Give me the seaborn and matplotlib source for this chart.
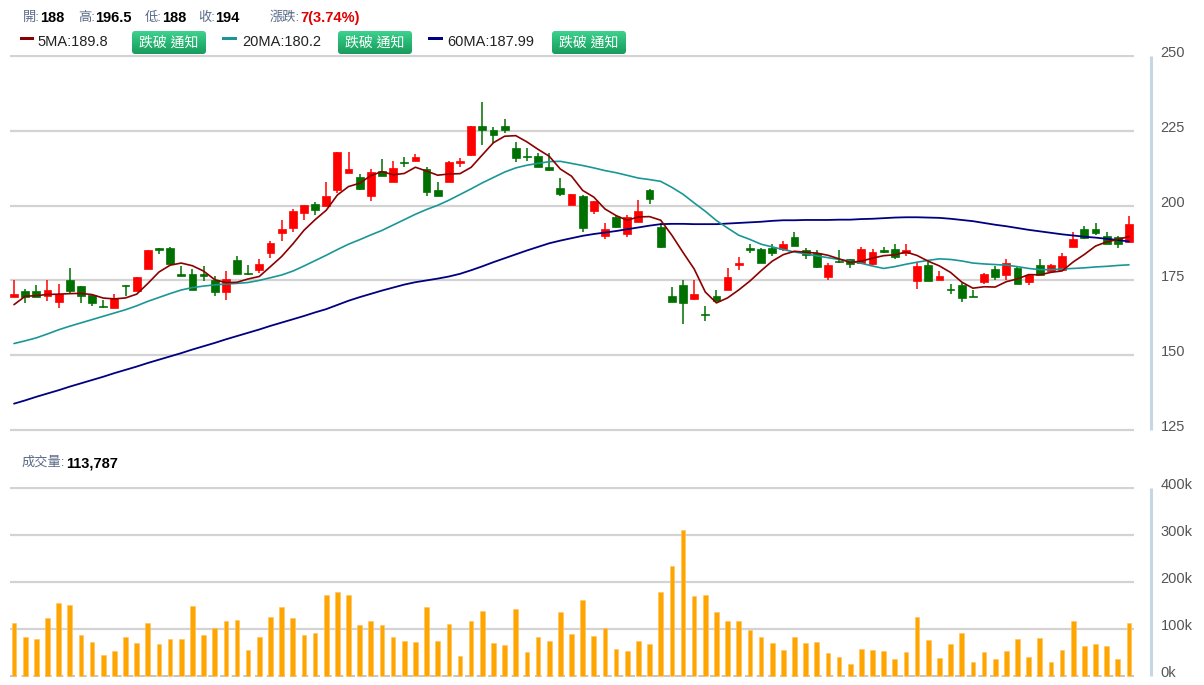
import numpy as np
import pandas as pd
import matplotlib
matplotlib.use("Agg")
import matplotlib.pyplot as plt
import matplotlib.transforms as mtransforms
from matplotlib.patches import FancyBboxPatch, Rectangle
import seaborn as sns

# ---------------- data ----------------
opens = [169.5, 171.6, 171.3, 169.9, 167.8, 175.1, 173.1, 170.0, 166.4, 165.8,
         173.6, 171.6, 178.8, 185.7, 185.7, 177.2, 177.2, 177.1, 175.1, 171.0,
         181.7, 177.5, 178.6, 184.0, 190.9, 192.5, 197.6, 200.6, 199.8, 205.1,
         210.9, 209.6, 203.1, 211.5, 207.8, 214.6, 214.8, 212.2, 205.3, 207.8,
         214.3, 217.0, 226.7, 225.4, 226.7, 219.3, 216.7, 216.5, 212.9, 205.9,
         200.3, 203.3, 198.1, 189.8, 196.2, 190.5, 194.5, 205.3, 192.8, 169.7,
         173.6, 168.9, 163.8, 169.9, 171.7, 180.1, 185.7, 185.6, 185.9, 185.6,
         189.4, 185.1, 184.2, 176.2, 181.6, 182.0, 180.8, 180.6, 185.3, 185.6,
         184.0, 174.9, 180.1, 175.3, 172.0, 173.6, 169.9, 174.4, 178.8, 176.7,
         179.0, 174.5, 180.3, 178.1, 178.6, 186.2, 192.2, 192.2, 190.0, 189.4,
         188.0]
highs = [175.3, 172.2, 173.3, 175.3, 173.9, 179.0, 173.1, 170.0, 168.6, 170.6,
         173.6, 176.2, 185.3, 185.7, 186.0, 179.7, 178.8, 179.7, 176.4, 178.3,
         183.1, 180.3, 182.0, 188.1, 195.3, 198.7, 200.1, 201.3, 208.0, 217.8,
         217.8, 210.4, 212.2, 215.7, 214.8, 216.3, 217.4, 212.9, 208.0, 214.9,
         215.9, 226.7, 234.5, 226.3, 229.0, 221.2, 219.3, 217.6, 217.6, 209.2,
         204.0, 203.7, 201.7, 194.2, 196.7, 197.0, 202.0, 205.6, 194.2, 172.7,
         175.1, 175.1, 166.4, 171.9, 179.0, 182.9, 187.0, 185.9, 187.0, 188.1,
         191.1, 185.9, 185.3, 180.8, 185.3, 182.2, 186.1, 185.6, 186.1, 187.3,
         187.3, 181.1, 181.1, 178.3, 173.9, 174.2, 171.9, 177.5, 179.7, 182.2,
         179.7, 176.7, 182.2, 180.6, 184.2, 191.1, 193.3, 194.2, 191.1, 190.0,
         196.5]
lows = [169.5, 167.5, 169.5, 168.0, 165.8, 170.6, 167.5, 166.4, 165.8, 165.8,
        169.7, 171.4, 178.8, 183.8, 180.6, 176.4, 171.7, 174.7, 169.9, 168.6,
        177.3, 176.9, 177.5, 182.5, 188.1, 191.1, 195.3, 197.0, 199.8, 204.2,
        210.9, 205.3, 201.4, 210.0, 207.8, 212.9, 214.8, 203.3, 203.1, 207.8,
        212.9, 216.5, 220.4, 220.9, 224.3, 214.5, 214.8, 212.9, 211.5, 203.3,
        200.3, 191.1, 197.3, 189.0, 192.5, 189.5, 194.5, 200.7, 185.9, 167.8,
        160.5, 168.3, 161.4, 168.0, 171.7, 178.4, 184.0, 180.8, 183.1, 184.7,
        186.4, 182.0, 179.2, 175.3, 180.8, 179.0, 180.5, 180.3, 184.0, 182.3,
        183.1, 172.2, 174.9, 175.3, 170.6, 167.7, 169.5, 173.9, 175.3, 175.3,
        173.8, 173.3, 176.9, 177.7, 178.6, 186.2, 188.9, 190.1, 187.3, 185.9,
        188.0]
closes = [170.5, 169.5, 169.5, 171.9, 170.6, 171.4, 169.9, 167.5, 166.1, 169.2,
          173.0, 176.2, 185.3, 185.3, 180.6, 176.6, 171.7, 176.4, 171.0, 175.5,
          177.3, 177.2, 180.6, 187.5, 192.3, 198.1, 200.1, 198.4, 203.3, 217.8,
          212.2, 205.7, 211.1, 210.0, 212.6, 214.3, 216.1, 204.7, 203.1, 214.6,
          214.9, 226.7, 225.4, 223.5, 225.4, 215.9, 216.3, 212.9, 212.0, 204.0,
          204.0, 192.5, 201.7, 192.2, 192.9, 196.2, 198.1, 202.2, 186.2, 167.8,
          167.5, 170.5, 163.6, 168.0, 176.2, 180.8, 185.3, 180.8, 184.0, 187.2,
          186.4, 183.6, 179.5, 180.3, 181.2, 180.6, 185.6, 184.5, 184.4, 182.7,
          185.3, 179.7, 174.9, 176.6, 171.8, 169.2, 169.5, 177.3, 176.1, 180.8,
          173.8, 176.7, 176.9, 180.3, 183.1, 188.9, 189.2, 190.9, 187.3, 187.0,
          194.0]
volume_k = [113, 83, 78, 123, 156, 151, 88, 73, 45, 53, 83, 71, 113, 68, 78, 78,
            148, 88, 103, 116, 120, 55, 83, 126, 146, 123, 88, 91, 173, 178, 173,
            108, 118, 108, 83,
            75, 73, 146, 75, 111, 43, 116, 138, 71, 65, 143, 51, 83, 75, 136, 90,
            161, 85, 103, 58, 53, 75, 68, 178, 234, 311, 171, 173, 136, 116, 116,
            98, 83, 71, 55, 83,
            71, 73, 49, 41, 26, 58, 56, 54, 36, 51, 126, 76, 39, 69, 91, 29, 51,
            36, 54, 79, 41, 81, 29, 56, 118, 63, 69, 63, 36, 113.787]
ma5_head = [166.9, 169.7, 169.9, 170.3]
ma20 = [153.9, 154.8, 155.8, 157.1, 158.5, 159.7, 160.8, 161.9, 163.0, 164.1,
        165.2, 166.5, 168.0, 169.3, 170.6, 171.8, 172.6, 173.1, 173.5, 173.8,
        174.0, 174.3, 175.0, 175.9, 176.8, 178.1, 179.8, 181.6, 183.4, 185.3,
        187.1, 188.6, 190.2, 191.7, 193.5, 195.3, 197.1, 198.7, 200.1, 201.8,
        203.7, 205.6, 207.6, 209.4, 211.2, 212.6, 213.5, 214.1, 214.7, 214.8,
        214.1, 213.4, 212.6, 211.7, 211.0, 210.1, 209.2, 208.7, 208.1, 206.1,
        203.8, 200.9, 198.1, 195.0, 192.5, 190.1, 188.7, 187.1, 186.2, 185.3,
        184.5, 183.9, 183.2, 182.6, 182.0, 181.4, 180.7, 179.8, 179.0, 179.6,
        180.4, 181.1, 181.7, 182.2, 182.0, 181.5, 180.8, 180.5, 180.3, 180.1,
        179.6, 179.0, 178.6, 178.6, 178.8, 179.0, 179.2, 179.5, 179.7, 180.0,
        180.2]
ma60 = [133.8, 134.9, 136.1, 137.2, 138.3, 139.5, 140.6, 141.7, 142.8, 144.0,
        145.1, 146.2, 147.4, 148.5, 149.6, 150.7, 151.9, 153.0, 154.1, 155.3,
        156.4, 157.5, 158.6, 159.8, 160.9, 162.0, 163.1, 164.3, 165.4, 166.8,
        168.2, 169.4, 170.5, 171.6, 172.6, 173.6, 174.4, 175.0, 175.6, 176.3,
        177.2, 178.4, 179.7, 181.1, 182.4, 183.7, 185.0, 186.2, 187.4, 188.3,
        189.1, 189.9, 190.5, 191.0, 191.5, 192.1, 192.7, 193.3, 193.8, 193.9,
        193.9, 193.8, 193.8, 193.8, 194.0, 194.2, 194.4, 194.6, 194.9, 195.1,
        195.1, 195.2, 195.2, 195.2, 195.3, 195.3, 195.5, 195.6, 195.8, 196.0,
        196.1, 196.1, 196.0, 195.9, 195.6, 195.2, 194.8, 194.2, 193.6, 193.1,
        192.5, 191.9, 191.4, 190.9, 190.4, 190.0, 189.6, 189.3, 188.9, 188.5,
        187.99]
price_ticks = [125, 150, 175, 200, 225, 250]
vol_ticks = [0, 100, 200, 300, 400]
vol_tick_labels = ["0k", "100k", "200k", "300k", "400k"]

# ---------------- style ----------------
sns.set_theme(style="white")
plt.rcParams['font.family'] = ['Liberation Sans', 'Noto Sans CJK TC', 'DejaVu Sans']

RED = "#ff0000"
GREEN = "#007000"
GRID = "#d3d3d3"
LABEL = "#555555"
AXLINE = "#c6d6e6"

W, H = 1204, 685
fig = plt.figure(figsize=(W / 100, H / 100), dpi=100)


def rect_px(x0, x1, y_top, y_bot):
    return [x0 / W, 1 - y_bot / H, (x1 - x0) / W, (y_bot - y_top) / H]


n = len(closes)
idx = np.arange(n)
df = pd.DataFrame({"i": idx, "open": opens, "high": highs, "low": lows,
                   "close": closes, "vol": volume_k})
ma5 = df["close"].rolling(5).mean().to_numpy()
ma5[:4] = ma5_head
df["ma5"] = np.round(ma5, 2)
df["ma20"] = ma20
df["ma60"] = ma60

XL = (-0.36, 100.45)

# ---------------- price panel ----------------
ax = fig.add_axes(rect_px(10, 1134, 54.5, 431.5))
up = df["close"] >= df["open"]
cols = np.where(up, RED, GREEN)
ax.vlines(df["i"], df["low"], df["high"], colors=cols, lw=1.1, zorder=3)
body_b = np.minimum(df["open"], df["close"])
body_h = np.maximum((df["close"] - df["open"]).abs(), 0.3)
ax.bar(df["i"], body_h, bottom=body_b, width=0.7, color=cols,
       edgecolor=cols, linewidth=0.5, zorder=4)

sns.lineplot(data=df, x="i", y="ma60", ax=ax, color="#000080", lw=1.3, zorder=5)
sns.lineplot(data=df, x="i", y="ma20", ax=ax, color="#1a9696", lw=1.2, zorder=5)
sns.lineplot(data=df, x="i", y="ma5", ax=ax, color="#8b0000", lw=1.2, zorder=6)

ax.set_xlim(*XL)
ax.set_ylim(124.5, 250.5)
ax.set_yticks(price_ticks)
ax.set_xticks([])
ax.grid(axis="y", color=GRID, lw=1.6, zorder=0)
for s in ax.spines.values():
    s.set_visible(False)
ax.set_xlabel("")
ax.set_ylabel("")
ax.yaxis.tick_right()
ax.tick_params(axis="y", length=0, pad=19, labelsize=10.5, labelcolor=LABEL)
off = mtransforms.ScaledTranslation(0, 0.045, fig.dpi_scale_trans)
for lbl in ax.get_yticklabels():
    lbl.set_transform(lbl.get_transform() + off)

# ---------------- volume panel ----------------
axv = fig.add_axes(rect_px(10, 1134, 486.6, 677.4))
sns.barplot(data=df, x="i", y="vol", ax=axv, native_scale=True, width=0.42,
            color="#ffa500", edgecolor="#ffc45c", linewidth=0.4,
            errorbar=None, saturation=1, zorder=3)
axv.set_xlim(*XL)
axv.set_ylim(-3, 403)
axv.set_yticks(vol_ticks)
axv.set_yticklabels(vol_tick_labels)
axv.set_xticks([])
axv.set_xlabel("")
axv.set_ylabel("")
axv.grid(axis="y", color=GRID, lw=1.6, zorder=0)
for s in axv.spines.values():
    s.set_visible(False)
axv.yaxis.tick_right()
axv.tick_params(axis="y", length=0, pad=19, labelsize=10.5, labelcolor=LABEL)
for lbl in axv.get_yticklabels():
    lbl.set_transform(lbl.get_transform() + off)
axv.get_ygridlines()[0].set_visible(False)
axv.axhline(0, color="#bbbbbb", lw=1.2, ls=(0, (4, 3)), zorder=1)

# ---------------- overlay (pixel coordinates) ----------------
ov = fig.add_axes([0, 0, 1, 1], zorder=10)
ov.set_xlim(0, W)
ov.set_ylim(H, 0)
ov.axis("off")
ov.patch.set_alpha(0)
renderer = fig.canvas.get_renderer()

# right-side axis lines
ov.plot([1151, 1151], [56, 430], color=AXLINE, lw=2.2, solid_capstyle="butt")
ov.plot([1151, 1151], [488, 676], color=AXLINE, lw=2.2, solid_capstyle="butt")

LAB = "#5a6a88"
FS = 10.5
FSL = 9.5


def seq(x, y, parts):
    """Place text pieces one after another starting at pixel x."""
    for t, c, w, fs in parts:
        txt = ov.text(x, y, t, color=c, fontsize=fs, fontweight=w,
                      ha="left", va="center")
        bb = txt.get_window_extent(renderer)
        x = bb.x1 + 0.5


# header row
hy = 18
seq(23, hy, [("開:", LAB, "normal", FSL), ("188", "black", "bold", FS)])
seq(78, hy, [("高:", LAB, "normal", FSL), ("196.5", "black", "bold", FS)])
seq(145, hy, [("低:", LAB, "normal", FSL), ("188", "black", "bold", FS)])
seq(198, hy, [("收:", LAB, "normal", FSL), ("194", "black", "bold", FS)])
seq(270, hy, [("漲跌:", LAB, "normal", FSL), ("7(3.74%)", "#e00000", "bold", FS)])

# legend row
ly = 42
legend = [(20, 34, "#8b0000", 37, "5MA:189.8", 132),
          (222, 237, "#1a9696", 242, "20MA:180.2", 338),
          (428, 443, "#000080", 447, "60MA:187.99", 552)]


def button(x0):
    x1, y0, y1 = x0 + 74, 31, 54
    patch = FancyBboxPatch((x0, y0), x1 - x0, y1 - y0,
                           boxstyle="round,pad=0,rounding_size=3",
                           transform=ov.transData, linewidth=0,
                           facecolor="none")
    ov.add_patch(patch)
    grad = np.linspace(0, 1, 50).reshape(-1, 1)
    im = ov.imshow(grad, extent=(x0, x1, y1, y0),
                   cmap=matplotlib.colors.LinearSegmentedColormap.from_list(
                       "g", ["#3fd18f", "#27b673", "#1a9c5d"]),
                   aspect="auto", zorder=11, interpolation="bilinear")
    im.set_clip_path(patch)
    ov.text((x0 + x1) / 2, (y0 + y1) / 2, "跌破 通知", color="white",
            fontsize=10, ha="center", va="center", zorder=12)


for rx0, rx1, rc, tx, txt, bx in legend:
    ov.add_patch(Rectangle((rx0, 36.5), rx1 - rx0, 3.5, color=rc, lw=0))
    ov.text(tx, ly, txt, color="#222222", fontsize=FS, ha="left", va="center")
    button(bx)
ov.set_xlim(0, W)
ov.set_ylim(H, 0)

# volume title
seq(22, 463, [("成交量:", LAB, "normal", FSL), ("113,787", "black", "bold", FS)])

fig.savefig("out.png", dpi=100)
